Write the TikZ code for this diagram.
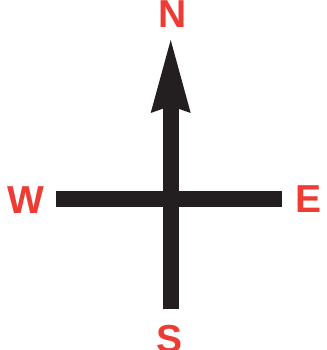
\documentclass[tikz,border=0pt]{standalone}
\usepackage{fontspec}
\setmainfont{Liberation Sans}
\definecolor{compred}{HTML}{EE3B33}
\definecolor{compblack}{HTML}{231F20}
\begin{document}
\begin{tikzpicture}[x=1pt,y=1pt,
  lbl/.style={text=compred,font=\fontsize{39}{39}\selectfont\bfseries,inner sep=0pt,anchor=base},
  bar/.style={draw=compblack,line width=16pt}]
\useasboundingbox (0,0) rectangle (326,350);
% labels
\node[lbl] (N) at (172.8,322) {N};
\node[lbl] (W) at (26.2,136.7) {W};
\node[lbl] (E) at (308.7,137) {E};
\node[lbl] (S) at (169.2,-2.5) {S};
% bar ends
\coordinate (wend) at (56,151);
\coordinate (eend) at (281.8,151);
\coordinate (send) at (170.5,40.7);
\coordinate (shafttop) at (170.5,246);
\coordinate (tip) at (170.7,310);
% bars
\draw[bar] (wend) -- (eend);
\draw[bar] (send) -- (shafttop);
% arrowhead
\fill[compblack] (tip) -- (190.7,237) -- (170.5,244) -- (150.7,237) -- cycle;
\end{tikzpicture}
\end{document}
